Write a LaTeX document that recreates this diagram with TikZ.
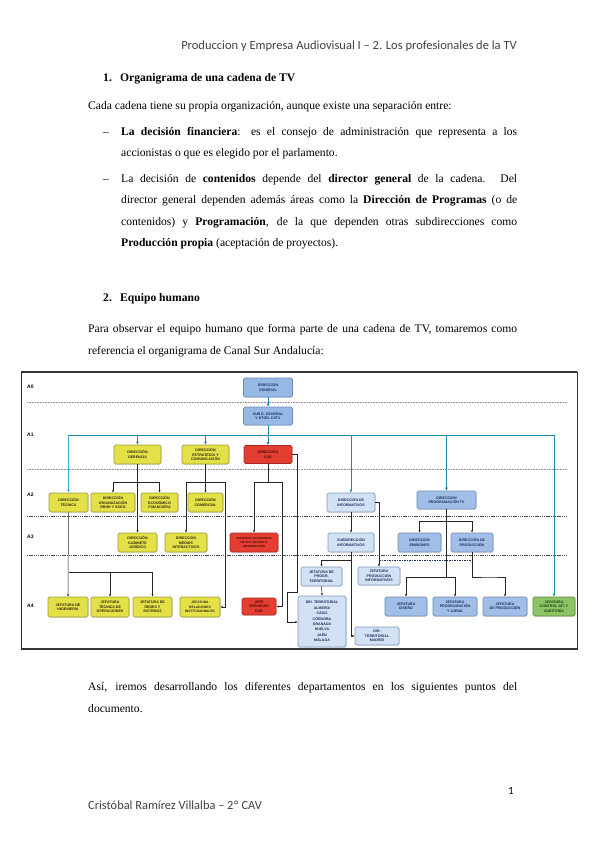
\documentclass[tikz,border=0pt]{standalone}
\usepackage{fontspec}
\setmainfont{Liberation Serif}
\newfontfamily\hdrfont{Carlito}
\newfontfamily\boxfont{Liberation Sans}
\usetikzlibrary{arrows.meta,shadows}
\definecolor{cyel}{RGB}{228,224,72}
\definecolor{cyeld}{RGB}{160,155,60}
\definecolor{ctxy}{RGB}{45,40,15}
\definecolor{cdb}{RGB}{150,185,228}
\definecolor{cdbd}{RGB}{110,140,185}
\definecolor{clb}{RGB}{210,225,243}
\definecolor{clbd}{RGB}{130,155,190}
\definecolor{cpb}{RGB}{160,190,230}
\definecolor{ctxb}{RGB}{25,45,95}
\definecolor{cred}{RGB}{228,62,50}
\definecolor{credd}{RGB}{170,40,35}
\definecolor{ctxr}{RGB}{70,10,8}
\definecolor{cgr}{RGB}{140,195,100}
\definecolor{cgrd}{RGB}{90,140,60}
\definecolor{ctxg}{RGB}{25,60,20}
\definecolor{cteal}{RGB}{30,135,170}
\definecolor{clteal}{RGB}{60,170,215}
\tikzset{
  body/.style={font=\fontsize{11.6}{14}\selectfont, inner sep=0pt, anchor=base west},
  bx/.style={rounded corners=1.6pt, line width=0.6pt, align=center, inner sep=0pt,
    font=\boxfont\bfseries\fontsize{3.6}{4.3}\selectfont,
    drop shadow={opacity=0.3,shadow xshift=0.5pt,shadow yshift=-0.5pt}},
  yb/.style={bx, fill=cyel, draw=cyeld, text=ctxy},
  bb/.style={bx, fill=cdb, draw=cdbd, text=ctxb},
  lb/.style={bx, fill=clb, draw=clbd, text=ctxb},
  pb/.style={bx, fill=cpb, draw=cdbd, text=ctxb},
  rb/.style={bx, fill=cred, draw=credd, text=ctxr},
  gb/.style={bx, fill=cgr, draw=cgrd, text=ctxg},
  sz/.style 2 args={minimum width=#1pt, minimum height=#2pt},
  ln/.style={draw=black!85, line width=0.5pt},
  ar/.style={ln, -{Latex[length=2.4pt,width=2.2pt]}},
  tl/.style={draw=cteal, line width=0.9pt},
  tar/.style={tl, -{Latex[length=3pt,width=2.8pt]}},
  sepl/.style={draw=black!45, line width=0.6pt, dash pattern=on 1pt off 0.6pt},
  sepd/.style={draw=black!70, line width=0.6pt, dash pattern=on 1.4pt off 0.8pt},
  lvl/.style={font=\boxfont\bfseries\fontsize{5}{6}\selectfont, inner sep=0pt, anchor=west},
}
\begin{document}
\begin{tikzpicture}[x=1pt,y=-1pt]
\useasboundingbox[fill=white] (0,0) rectangle (599,848);

% header
\node[anchor=base east, inner sep=0pt, text=black!75, font=\hdrfont\fontsize{12.5}{14}\selectfont] (hdr) at (517,50) {Produccion y Empresa Audiovisual I – 2. Los profesionales de la TV};

% section 1
\node[body, font=\fontsize{11.6}{14}\selectfont\bfseries] (n1) at (103,82) {1.};
\node[body, font=\fontsize{11.6}{14}\selectfont\bfseries] (h1) at (120,82) {Organigrama de una cadena de TV};
\node[body] (p1) at (88,110) {Cada cadena tiene su propia organización, aunque existe una separación entre:};
\node[body] (d1) at (103,135.5) {–};
\node[body] (b1a) at (121,135.5) {\makebox[396pt][s]{\textbf{La decisión financiera}: es el consejo de administración que representa a los}};
\node[body] (b1b) at (121,157) {accionistas o que es elegido por el parlamento.};
\node[body] (d2) at (103,182) {–};
\node[body] (b2a) at (121,182) {\makebox[396pt][s]{La decisión de \textbf{contenidos} depende del \textbf{director general} de la cadena. Del}};
\node[body] (b2b) at (121,203.5) {\makebox[396pt][s]{director general dependen además áreas como la \textbf{Dirección de Programas} (o de}};
\node[body] (b2c) at (121,225) {\makebox[396pt][s]{contenidos) y \textbf{Programación}, de la que dependen otras subdirecciones como}};
\node[body] (b2d) at (121,246.5) {\textbf{Producción propia} (aceptación de proyectos).};

% section 2
\node[body, font=\fontsize{11.6}{14}\selectfont\bfseries] (n2) at (103,301) {2.};
\node[body, font=\fontsize{11.6}{14}\selectfont\bfseries] (h2) at (120,301) {Equipo humano};
\node[body] (p2a) at (88,332.5) {\makebox[429pt][s]{Para observar el equipo humano que forma parte de una cadena de TV, tomaremos como}};
\node[body] (p2b) at (88,354) {referencia el organigrama de Canal Sur Andalucía:};

% ===== org chart =====
\draw[line width=0.9pt, black!80] (21,372) rectangle (577,649);
\draw[line width=1.8pt, black!80] (21,372) -- (577,372);
\draw[line width=1.6pt, black!80] (21,649) -- (577,649);

\node[lvl] (a0) at (27,387) {A0};
\node[lvl] (a1) at (27,435) {A1};
\node[lvl] (a2) at (27,495) {A2};
\node[lvl] (a3) at (27,537) {A3};
\node[lvl] (a4) at (27,606) {A4};

\draw[sepl] (27,402) -- (567,402);
\draw[sepl] (27,469) -- (567,469);
\draw[sepd] (27,516) -- (567,516);
\draw[sepd] (27,555) -- (567,555);

% boxes
\node[bb, sz={49}{19}] (dg) at (268,387.5) {DIRECCIÓN\\GENERAL};
\node[bb, sz={49}{18}] (sub) at (268,416) {SUB D. GENERAL\\Y DTOR. CSTV};
\node[yb, sz={47}{19}] (ger) at (137.5,454.5) {DIRECCIÓN\\GERENCIA};
\node[yb, sz={47}{19}] (est) at (205.5,454.5) {DIRECCIÓN\\ESTRATEGIA Y\\COMUNICACIÓN};
\node[rb, sz={48}{18}] (csr) at (268,454.5) {DIRECCIÓN\\CSR};

\node[yb, sz={39}{19}] (tec) at (68.5,502.5) {DIRECCIÓN\\TÉCNICA};
\node[yb, sz={44}{19}] (org) at (113,502.5) {DIRECCIÓN\\ORGANIZACIÓN\\RRHH Y SSGG};
\node[yb, sz={37}{19}] (eco) at (159.5,502.5) {DIRECCIÓN\\ECONÓMICO\\FINANCIERA};
\node[yb, sz={35}{19}] (com) at (205.5,502.5) {DIRECCIÓN\\COMERCIAL};
\node[lb, sz={48}{19}] (inf) at (351,502.5) {DIRECCIÓN DE\\INFORMATIVOS};
\node[pb, sz={59}{18}] (prog) at (446.5,500) {DIRECCIÓN\\PROGRAMACIÓN TV};

\node[yb, sz={39}{19}] (gab) at (137.5,542.5) {DIRECCIÓN\\GABINETE\\JURÍDICO};
\node[yb, sz={42}{19}] (med) at (186,542.5) {DIRECCIÓN\\MEDIOS\\INTERACTIVOS};
\node[rb, sz={48}{19}, font=\boxfont\bfseries\fontsize{2.9}{3.7}\selectfont] (cont) at (254,542.5) {JEFATURA CONTENIDOS\\DE ACTUALIDAD E\\INFORMATIVOS};
\node[lb, sz={46}{19}] (sinf) at (351,542.5) {SUBDIRECCIÓN\\INFORMATIVOS};
\node[pb, sz={43}{19}] (emi) at (419.5,542.5) {DIRECCIÓN\\EMISIONES};
\node[pb, sz={42}{19}] (dpro) at (472,542.5) {DIRECCIÓN DE\\PRODUCCIÓN};

\node[lb, sz={41}{19}] (jpt) at (321.5,576.5) {JEFATURA DE\\PROGR.\\TERRITORIAL};
\node[lb, sz={42}{18}] (jpi) at (379,576) {JEFATURA\\PRODUCCIÓN\\INFORMATIVOS};

\node[yb, sz={40}{20}] (ing) at (68,607) {JEFATURA DE\\INGENIERÍA};
\node[yb, sz={38}{20}] (top) at (110,607) {JEFATURA\\TÉCNICA DE\\OPERACIONES};
\node[yb, sz={39}{20}] (red) at (152.5,607) {JEFATURA DE\\REDES Y\\SISTEMAS};
\node[yb, sz={40}{20}, font=\boxfont\bfseries\fontsize{3.3}{4.2}\selectfont] (rel) at (200,607) {JEFATURA\\RELACIONES\\INSTITUCIONALES};
\node[rb, sz={34}{17}] (jcsr) at (259,606.5) {JEFE\\SERVICIOS\\CSR};
\node[lb, sz={48}{51}, font=\boxfont\bfseries\fontsize{3.6}{5.4}\selectfont] (dter) at (322,621.5) {DIR. TERRITORIAL\\ALMERÍA\\CÁDIZ\\CÓRDOBA\\GRANADA\\HUELVA\\JAÉN\\MÁLAGA};
\node[lb, sz={44}{18}] (mad) at (377,636) {DIR.\\TERRITORIAL\\MADRID};
\node[pb, sz={42}{19}] (jdis) at (406,606.5) {JEFATURA\\DISEÑO};
\node[pb, sz={44}{19}] (jpa) at (455,606.5) {JEFATURA\\PROGRAMACIÓN\\Y AJENA};
\node[pb, sz={44}{19}] (jpr) at (505,606.5) {JEFATURA\\DE PRODUCCIÓN};
\node[gb, sz={42}{19}] (ctrl) at (554,606.5) {JEFATURA\\CONTROL INT. Y\\AUDITORÍA};

% teal connectors
\coordinate (bus) at (268,435);
\draw[tar] (dg) -- (sub);
\draw[tl] (sub.south) -- (bus);
\draw[tl] (tec.north |- bus) -- (ctrl.north |- bus);
\draw[tl, draw=clteal, -{Latex[length=3pt,width=2.8pt]}] (tec.north |- bus) -- (tec.north);
\draw[tar] (ger.north |- bus) -- (ger.north);
\draw[tar] (est.north |- bus) -- (est.north);
\draw[tar] (bus) -- (csr.north);
\draw[tar] (inf.north |- bus) -- (inf.north);
\draw[tar] (prog.north |- bus) -- (prog.north);
\draw[tar] (ctrl.north |- bus) -- (ctrl.north);

% black connectors - gerencia
\coordinate (gj) at (137.5,482);
\draw[ar] (ger.south) -- (gab.north);
\draw[ln] (org.north |- gj) -- (eco.north |- gj);
\draw[ar] (org.north |- gj) -- (org.north);
\draw[ar] (eco.north |- gj) -- (eco.north);
% estrategia
\coordinate (ej) at (205.5,482);
\coordinate (er) at (225,482);
\draw[ar] (est.south) -- (com.north);
\draw[ln] (med.north |- ej) -- (er);
\draw[ar] (med.north |- ej) -- (med.north);
\draw[ar] (er) |- (rel.east);
% csr
\coordinate (cj) at (268,482);
\coordinate (cr) at (282,482);
\draw[ln] (csr.south) -- (cj);
\draw[ln] (cont.north |- cj) -- (cr);
\draw[ar] (cont.north |- cj) -- (cont.north);
\draw[ar] (cr) |- (jcsr.east);
\coordinate (c1) at (297,454.5);
\coordinate (c2) at (297,592);
\coordinate (c3) at (287,592);
\coordinate (c4) at (287,622);
\draw[ar] (csr.east) -- (c1) -- (c2) -- (c3) -- (c4) -- (c4 -| dter.west);
% informativos
\draw[ar] (inf.south) -- (sinf.north);
\draw[ar] (inf.east) -| (jpi.north);
\coordinate (sj) at (351,560);
\draw[ar] (sj) -| (jpt.north);
\draw[ar] (sinf.south) |- (mad.west);
\draw[ar] (jpt.south) -- (dter.north);
\draw[draw=ctxb, line width=0.6pt, dash pattern=on 1.5pt off 1pt] (jpi.north |- sj) -- (dpro.south |- sj);
% programacion
\coordinate (pj) at (446.5,521);
\coordinate (pk) at (446.5,577);
\draw[ln] (prog.south) -- (pk);
\draw[ln] (emi.north |- pj) -- (dpro.north |- pj);
\draw[ar] (emi.north |- pj) -- (emi.north);
\draw[ar] (dpro.north |- pj) -- (dpro.north);
\draw[ln] (jdis.north |- pk) -- (jpa.north |- pk);
\draw[ar] (jdis.north |- pk) -- (jdis.north);
\draw[ar] (jpa.north |- pk) -- (jpa.north);
\draw[ar] (dpro.south) |- (pk -| 490,0) -| (jpr.north);
% tecnica
\coordinate (tj) at (68.5,572);
\draw[ar] (tec.south) -- (ing.north);
\draw[ln] (tj) -- (red.north |- tj);
\draw[ar] (top.north |- tj) -- (top.north);
\draw[ar] (red.north |- tj) -- (red.north);

% closing text
\node[body] (p3a) at (88,690.5) {\makebox[429pt][s]{Así, iremos desarrollando los diferentes departamentos en los siguientes puntos del}};
\node[body] (p3b) at (88,712.5) {documento.};

% footer
\node[anchor=base, inner sep=0pt, font=\hdrfont\fontsize{11}{13}\selectfont] (pg) at (511,794) {1};
\node[anchor=base west, inner sep=0pt, text=black!75, font=\hdrfont\fontsize{12.4}{14}\selectfont] (ft) at (88,809) {Cristóbal Ramírez Villalba – 2º CAV};
\end{tikzpicture}
\end{document}
